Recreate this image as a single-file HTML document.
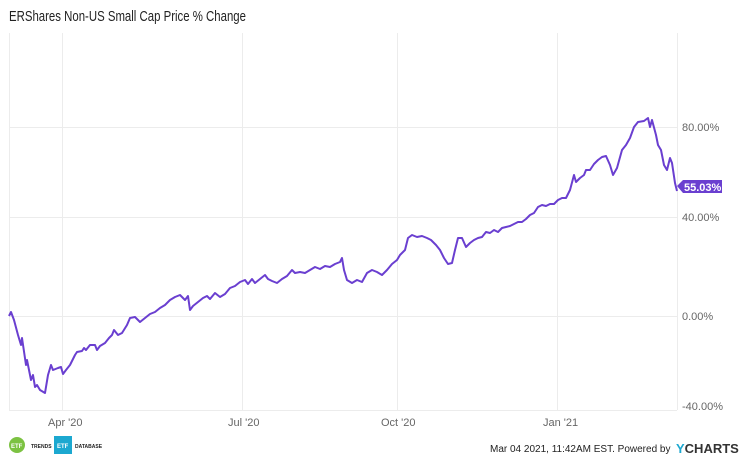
<!DOCTYPE html>
<html><head><style>
body{margin:0;width:750px;height:462px;background:#fff;font-family:"Liberation Sans",sans-serif;overflow:hidden;position:relative}
.t{position:absolute;white-space:nowrap}
</style></head><body>
<div class="t" style="left:9px;top:8px;font-size:15px;color:#222;transform:scaleX(0.76);transform-origin:0 0">ERShares Non-US Small Cap Price % Change</div>
<svg width="750" height="462" style="position:absolute;left:0;top:0">
<g stroke="#ececec" stroke-width="1" fill="none">
<line x1="9" y1="127.5" x2="677" y2="127.5"/>
<line x1="9" y1="217.5" x2="677" y2="217.5"/>
<line x1="9" y1="316.5" x2="677" y2="316.5"/>
<line x1="62.5" y1="33" x2="62.5" y2="410"/>
<line x1="242.5" y1="33" x2="242.5" y2="410"/>
<line x1="397.5" y1="33" x2="397.5" y2="410"/>
<line x1="557.5" y1="33" x2="557.5" y2="410"/>
<line x1="9.5" y1="33" x2="9.5" y2="410"/>
<line x1="677.5" y1="33" x2="677.5" y2="410"/>
<line x1="9" y1="410.5" x2="677" y2="410.5"/>
</g>
<polyline fill="none" stroke="#6a3fd0" stroke-width="2" stroke-linejoin="round" points="9,316 11,312 14,320 18,335 21,345 22,338 26,365 27,360 31,380 33,375 35,387 37,385 40,390 45,393 48,375 51,365 53,370 58,368 61,367 63,374 66,370 70,365 75,355 77,352 82,351 84,348 86,350 90,345 95,345 97,350 100,346 105,343 109,338 112,335 114,330 118,335 122,333 127,325 130,318 135,317 140,322 145,318 150,314 155,312 160,308 165,305 170,300 175,297 180,295 185,300 188,296 190,310 193,306 198,302 203,298 207,296 210,299 215,293 220,297 225,294 230,288 235,286 240,282 245,280 248,284 252,279 255,283 260,279 265,275 268,279 272,281 277,283 282,279 287,276 292,270 295,273 300,272 305,273 310,270 315,267 320,269 325,266 330,267 335,264 340,262 342,258 344,270 347,280 352,283 357,280 362,282 367,273 372,270 377,272 382,275 387,270 392,264 397,260 400,255 405,250 408,238 412,235 417,237 422,236 427,238 431,240 436,245 440,250 444,258 448,264 452,263 455,250 458,238 462,238 466,247 470,243 474,240 478,238 482,237 486,232 490,233 494,230 498,232 502,228 506,227 510,226 514,224 518,222 522,222 526,219 530,215 534,213 538,207 542,205 546,206 550,204 554,204 558,200 562,198 566,198 570,190 574,175 576,182 580,178 584,175 586,170 590,170 594,164 598,160 602,157 606,156 610,165 613,175 617,168 622,150 626,145 630,138 634,127 638,122 644,121 648,118 650,127 652,120 656,135 658,145 661,150 664,165 667,170 670,158 672,163 675,183 677,191"/>
<polygon points="677,186 683,180 722,180 722,193 683,193" fill="#6a3fd0"/>
<text x="684" y="191" font-size="11" fill="#fff" font-weight="bold" font-family="Liberation Sans">55.03%</text>
<g font-size="11" fill="#666" font-family="Liberation Sans">
<text x="682" y="131">80.00%</text>
<text x="682" y="221">40.00%</text>
<text x="682" y="320">0.00%</text>
<text x="682" y="410">-40.00%</text>
<text x="48" y="426">Apr '20</text>
<text x="228" y="426">Jul '20</text>
<text x="381" y="426">Oct '20</text>
<text x="543" y="426">Jan '21</text>
</g>
<circle cx="17" cy="445" r="8" fill="#7cc242"/>
<text x="11" y="448" font-size="6" fill="#fff" font-weight="bold">ETF</text>
<text x="31" y="448" font-size="5" fill="#222" font-weight="bold">TRENDS</text>
<rect x="54" y="436" width="18" height="18" fill="#1ca8d0"/>
<text x="57" y="448" font-size="6" fill="#fff" font-weight="bold">ETF</text>
<text x="75" y="448" font-size="5" fill="#222" font-weight="bold">DATABASE</text>
<text x="490" y="452" font-size="10" fill="#222">Mar 04 2021, 11:42AM EST. Powered by</text>
<text x="676" y="453" font-size="13" fill="#333" font-weight="bold"><tspan fill="#1ca8d0">Y</tspan>CHARTS</text>
</svg>
</body></html>
